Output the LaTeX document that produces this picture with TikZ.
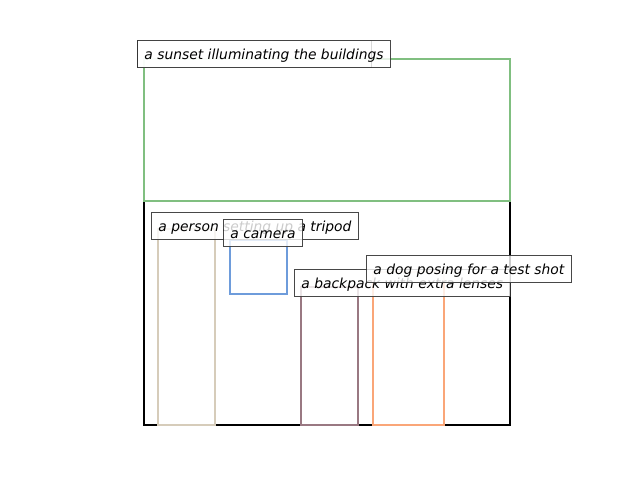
\documentclass[tikz,border=0pt]{standalone}
\usepackage{fontspec}
\setmainfont{DejaVu Sans}
\definecolor{boxgreen}{rgb}{0.5,0.75,0.5}
\definecolor{boxtan}{rgb}{0.84,0.8,0.73}
\definecolor{boxblue}{rgb}{0.43,0.61,0.86}
\definecolor{boxmauve}{rgb}{0.6,0.47,0.51}
\definecolor{boxorange}{rgb}{0.98,0.65,0.47}
\definecolor{labeledge}{rgb}{0.2,0.2,0.2}
\tikzset{
    region/.style={line width=1.7pt},
    tag/.style={anchor=west, draw=labeledge, line width=0.8pt, fill=white, fill opacity=0.8, draw opacity=0.9, text opacity=1,
        font=\itshape\fontsize{10pt}{12pt}\selectfont, inner xsep=5pt, inner ysep=0pt, minimum height=20pt,
        text height=10pt, text depth=2pt}
}
\begin{document}
\begin{tikzpicture}[x=0.01in, y=-0.01in]
    \useasboundingbox (0,0) rectangle (640,480);
    \draw [region, color=black, line width=1.9pt] (144,59) rectangle (510,425);
    \draw [region, color=boxgreen] (144,59) rectangle (510,201);
    \draw [region, color=boxtan] (158,229) rectangle (215,425);
    \draw [region, color=boxblue] (230,240) rectangle (287,294);
    \draw [region, color=boxmauve] (301,287) rectangle (358,425);
    \draw [region, color=boxorange] (373,272) rectangle (444,425);
    \node[tag, minimum width=169pt] (scene) at (137,54) {};
    \node[tag] (sunset) at (137,54) {a sunset illuminating the buildings};
    \node[tag] (person) at (151,226) {a person setting up a tripod};
    \node[tag] (camera) at (223,233) {a camera};
    \node[tag] (backpack) at (294,283) {a backpack with extra lenses};
    \node[tag] (dog) at (366,269) {a dog posing for a test shot};
\end{tikzpicture}
\end{document}
